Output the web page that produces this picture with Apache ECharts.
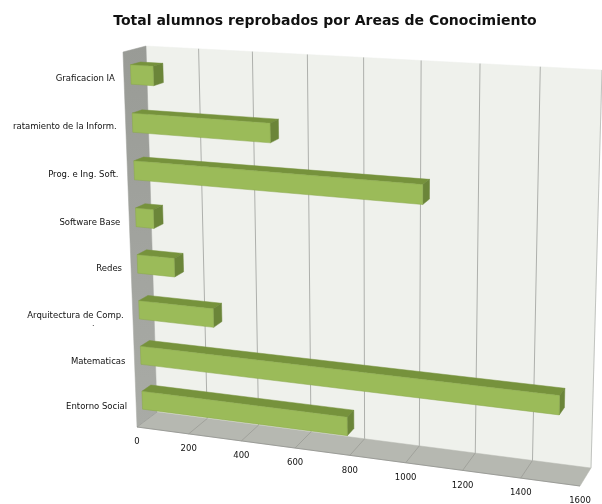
<!DOCTYPE html>
<html>
<head>
<meta charset="utf-8">
<style>
  html, body { margin: 0; padding: 0; background: #fff; }
  #chart { width: 602px; height: 504px; }
</style>
<script src="https://cdn.jsdelivr.net/npm/echarts@6/dist/echarts.min.js"></script>
</head>
<body>
<div id="chart"></div>
<script>
const categories = ['Graficacion IA', 'ratamiento de la Inform.', 'Prog. e Ing. Soft.', 'Software Base', 'Redes', 'Arquitectura de Comp.', 'Matematicas', 'Entorno Social'];
const values = [85, 510, 1045, 68, 142, 285, 1515, 775];
const valueTicks = [0, 200, 400, 600, 800, 1000, 1200, 1400, 1600];

const valueMax = 1600;
const catCount = categories.length;

// corners of the 3d box in the picture: top left, top right, bottom right, bottom left
const frontCorners = [[123, 52], [588, 82], [580, 486], [137, 427]];
const backCorners = [[146, 46], [602, 70], [591, 468], [157, 412]];

const barFront = 0.3, barBack = 0.74, barHalf = 0.2;

function homography(q) {
  const dx1 = q[1][0] - q[2][0], dx2 = q[3][0] - q[2][0], sx = q[0][0] - q[1][0] + q[2][0] - q[3][0];
  const dy1 = q[1][1] - q[2][1], dy2 = q[3][1] - q[2][1], sy = q[0][1] - q[1][1] + q[2][1] - q[3][1];
  const den = dx1 * dy2 - dx2 * dy1;
  const g = (sx * dy2 - dx2 * sy) / den, h = (dx1 * sy - sx * dy1) / den;
  const a = q[1][0] - q[0][0] + g * q[1][0], b = q[3][0] - q[0][0] + h * q[3][0], c = q[0][0];
  const d = q[1][1] - q[0][1] + g * q[1][1], e = q[3][1] - q[0][1] + h * q[3][1], f = q[0][1];
  return (u, v) => {
    const w = g * u + h * v + 1;
    return [(a * u + b * v + c) / w, (d * u + e * v + f) / w];
  };
}
const frontPlane = homography(frontCorners);
const backPlane = homography(backCorners);

// value + category position go through the axes, depth 0 = front, 1 = back wall
function projector(params, api) {
  const cs = params.coordSys;
  return (val, cat, depth) => {
    const pt = api.coord([val, cat]);
    const u = (pt[0] - cs.x) / cs.width, v = (pt[1] - cs.y) / cs.height;
    const p0 = frontPlane(u, v), p1 = backPlane(u, v);
    return [p0[0] + (p1[0] - p0[0]) * depth, p0[1] + (p1[1] - p0[1]) * depth];
  };
}

function poly(points, fill, stroke) {
  return { type: 'polygon', shape: { points }, style: { fill, stroke: stroke || fill, lineWidth: 0.5 } };
}
function seg(a, b, color, w) {
  return { type: 'line', shape: { x1: a[0], y1: a[1], x2: b[0], y2: b[1] }, style: { stroke: color, lineWidth: w } };
}

function renderWalls(params, api) {
  const P = projector(params, api);
  return {
    type: 'group',
    children: [
      poly([P(0, 0, 1), P(valueMax, 0, 1), P(valueMax, catCount, 1), P(0, catCount, 1)], '#eff1ec'),
      poly([P(0, 0, 0), P(0, 0, 1), P(0, catCount, 1), P(0, catCount, 0)], {
        type: 'linear', x: 0, y: 0, x2: 0, y2: 1,
        colorStops: [{ offset: 0, color: '#999b96' }, { offset: 1, color: '#a9aba6' }]
      }),
      poly([P(0, catCount, 0), P(0, catCount, 1), P(valueMax, catCount, 1), P(valueMax, catCount, 0)], '#b6b8b1'),
      seg(P(0, catCount, 0), P(valueMax, catCount, 0), '#8f918d', 0.8),
      seg(P(0, catCount, 1), P(0, catCount, 0), '#8f918d', 0.6),
      seg(P(valueMax, 0, 1), P(valueMax, catCount, 1), '#b4b6b2', 0.8)
    ]
  };
}

function renderTick(params, api) {
  const P = projector(params, api);
  const val = api.value(0);
  const foot = P(val, catCount, 0);
  const children = [
    {
      type: 'text',
      style: {
        x: foot[0], y: foot[1] + 15, text: String(val), fill: '#111',
        font: '8.5px "DejaVu Sans"', align: 'center', verticalAlign: 'middle'
      }
    }
  ];
  if (val > 0 && val < valueMax) {
    children.unshift(seg(P(val, 0, 1), P(val, catCount, 1), '#aeb0ac', 1));
    children.unshift(seg(P(val, catCount, 1), P(val, catCount, 0), '#9a9c96', 0.8));
  }
  return { type: 'group', children };
}

function renderBar(params, api) {
  const P = projector(params, api);
  const val = api.value(0), cat = api.value(1) + 0.5;
  const t = cat - barHalf, b = cat + barHalf;
  return {
    type: 'group',
    children: [
      poly([P(0, t, barFront), P(0, t, barBack), P(val, t, barBack), P(val, t, barFront)], '#76923c'),
      poly([P(val, t, barFront), P(val, t, barBack), P(val, b, barBack), P(val, b, barFront)], '#6b8539'),
      poly([P(0, t, barFront), P(val, t, barFront), P(val, b, barFront), P(0, b, barFront)], '#9bbb59', '#8aa84c')
    ]
  };
}

function renderCatLabel(params, api) {
  const P = projector(params, api);
  const foot = P(0, params.dataIndex + 0.5, 0);
  return {
    type: 'text',
    style: {
      x: foot[0] - 9, y: foot[1] + 2, text: categories[params.dataIndex], fill: '#111',
      font: '8.5px "DejaVu Sans"', align: 'right', verticalAlign: 'middle'
    }
  };
}

const chart = echarts.init(document.getElementById('chart'), null, { renderer: 'canvas' });
chart.setOption({
  animation: false,
  backgroundColor: '#fff',
  title: {
    text: 'Total alumnos reprobados por Areas de Conocimiento',
    left: 320,
    top: 9,
    textAlign: 'center',
    textStyle: { fontFamily: 'DejaVu Sans', fontSize: 14, fontWeight: 'bold', color: '#111' }
  },
  grid: { left: 0, right: 0, top: 0, bottom: 0 },
  xAxis: { type: 'value', min: 0, max: valueMax, interval: 200, show: false },
  yAxis: { type: 'value', min: 0, max: catCount, inverse: true, show: false },
  graphic: [
    { type: 'text', left: 92, top: 320, silent: true, style: { text: '.', fill: '#333', font: '8px "DejaVu Sans"' } }
  ],
  series: [
    { type: 'custom', silent: true, clip: false, z: 1, renderItem: renderWalls, data: [[0, 0]] },
    { type: 'custom', silent: true, clip: false, z: 2, renderItem: renderTick, data: valueTicks.map(v => [v, catCount]) },
    { type: 'custom', silent: true, clip: false, z: 3, renderItem: renderBar, data: values.map((v, i) => [v, i]) },
    { type: 'custom', silent: true, clip: false, z: 4, renderItem: renderCatLabel, data: categories.map((c, i) => [0, i]) }
  ]
});
</script>
</body>
</html>
